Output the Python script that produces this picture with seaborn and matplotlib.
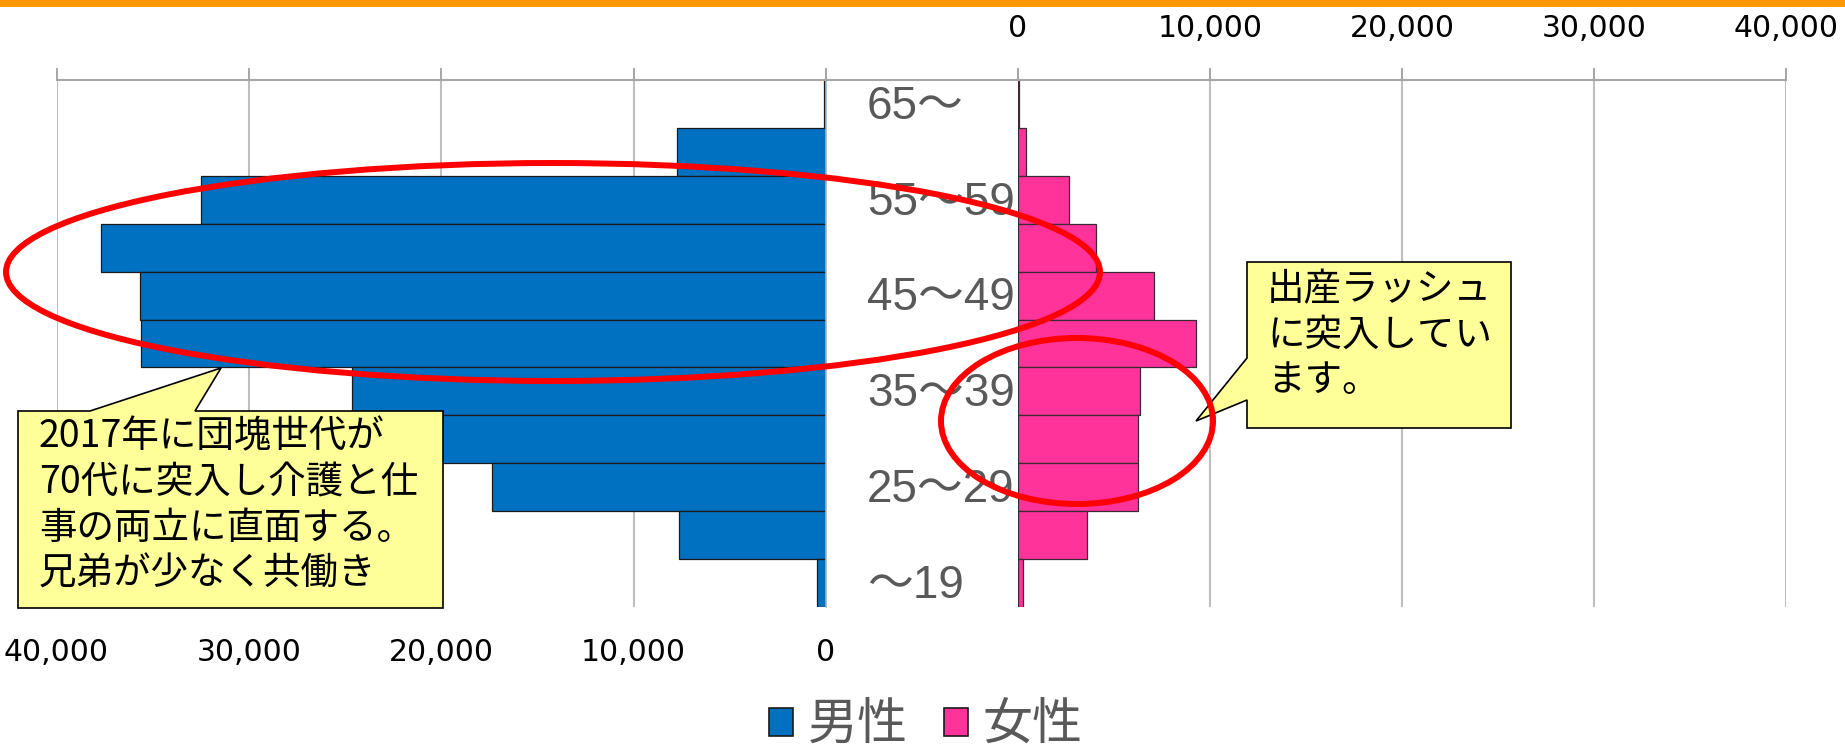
import numpy as np
import pandas as pd
import matplotlib
matplotlib.use("Agg")
import matplotlib.pyplot as plt
import seaborn as sns
from matplotlib.patches import Polygon, Ellipse, Rectangle, Patch
from matplotlib.lines import Line2D
from matplotlib.transforms import Affine2D, blended_transform_factory
from matplotlib.ticker import FuncFormatter
from matplotlib.font_manager import FontProperties

# ---------------- data ----------------
age_groups = ["65～", "60～64", "55～59", "50～54", "45～49", "40～44",
              "35～39", "30～34", "25～29", "20～24", "～19"]
male = [120, 7770, 32470, 37700, 35650, 35600, 24650, 22000, 17370, 7640, 490]
female = [60, 435, 2640, 4050, 7060, 9270, 6380, 6240, 6240, 3580, 245]
tick_values = [0, 10000, 20000, 30000, 40000]
legend_labels = ["男性", "女性"]
note_left = ["2017年に団塊世代が", "70代に突入し介護と仕", "事の両立に直面する。", "兄弟が少なく共働き"]
note_right = ["出産ラッシュ", "に突入してい", "ます。"]

MALE_C = "#0070C0"
FEMALE_C = "#FF3399"
GRID_C = "#BFBFBF"
AXLINE_C = "#A6A6A6"
LABEL_C = "#595959"
CJK = "Noto Sans CJK JP"

W, H = 1845, 754
fig = plt.figure(figsize=(W / 100, H / 100), dpi=100)
px = Affine2D().scale(1 / W, -1 / H).translate(0, 1) + fig.transFigure


def frac(x0, y0, x1, y1):
    return [x0 / W, 1 - y1 / H, (x1 - x0) / W, (y1 - y0) / H]


ax_m = fig.add_axes(frac(56.5, 80, 826, 607))
ax_f = fig.add_axes(frac(1018, 80, 1786, 607))

df = pd.DataFrame({"age": age_groups, "male": male, "female": female})

sns.barplot(data=df, x="male", y="age", order=age_groups, orient="h",
            color=MALE_C, saturation=1, width=1.0, edgecolor="#1a1a1a",
            linewidth=0.9, ax=ax_m, zorder=2)
sns.barplot(data=df, x="female", y="age", order=age_groups, orient="h",
            color=FEMALE_C, saturation=1, width=1.0, edgecolor="#3a2a35",
            linewidth=0.9, ax=ax_f, zorder=2)

fmt = FuncFormatter(lambda v, p: f"{v:,.0f}")
for ax in (ax_m, ax_f):
    ax.set_ylim(len(age_groups) - 0.5, -0.5)
    ax.set_xticks(tick_values)
    ax.xaxis.set_major_formatter(fmt)
    ax.set_xlabel("")
    ax.set_ylabel("")
    ax.set_yticks([])
    ax.grid(axis="x", color=GRID_C, lw=1.5, zorder=0)
    ax.grid(axis="y", visible=False)
    ax.set_axisbelow(True)
    for s in ("left", "bottom", "right"):
        ax.spines[s].set_visible(False)
    ax.spines["top"].set_color(AXLINE_C)
    ax.spines["top"].set_linewidth(1.5)
    ax.set_facecolor("none")

ax_m.set_xlim(40000, 0)
ax_f.set_xlim(0, 40000)
ax_m.spines["right"].set_visible(True)
ax_m.spines["right"].set_color("#9fb4c9")
ax_m.spines["right"].set_linewidth(1.2)

ax_m.tick_params(axis="x", top=True, bottom=False, labeltop=False, labelbottom=True,
                 direction="out", length=8.6, width=1.4, color=AXLINE_C, pad=14,
                 labelsize=21.5, labelcolor="#000000")
ax_f.tick_params(axis="x", top=True, bottom=False, labeltop=True, labelbottom=False,
                 direction="out", length=8.6, width=1.4, color=AXLINE_C, pad=18,
                 labelsize=21.5, labelcolor="#000000")

# top line across the gap
fig.add_artist(Line2D([826, 1018], [80, 80], transform=px, color=AXLINE_C, lw=1.5))

# orange band at top
fig.add_artist(Rectangle((0, 0), W, 7, transform=px, color="#FF9900", lw=0))

# category labels in the middle gap
lab_tr = blended_transform_factory(fig.transFigure, ax_f.transData)
for i, lab in enumerate(age_groups):
    if i % 2 == 0:
        fig.text(867 / W, i + 0.06, lab, transform=lab_tr, ha="left", va="center",
                 fontsize=33, color=LABEL_C, family=["Liberation Sans", CJK], zorder=3)

# callouts
call1 = [(18, 411), (90, 411), (221, 368), (195, 411), (443, 411), (443, 608), (18, 608)]
fig.add_artist(Polygon(call1, closed=True, transform=px, fc="#FFFF99", ec="#000000",
                       lw=1.2, zorder=4))
for k, line in enumerate(note_left):
    fig.text(39, 437 + k * 45.7, line, transform=px, ha="left", va="center",
             fontsize=27, color="#000000", family=CJK, zorder=6)

call2 = [(1247, 262), (1511, 262), (1511, 428), (1247, 428), (1247, 400), (1196, 421), (1247, 358)]
fig.add_artist(Polygon(call2, closed=True, transform=px, fc="#FFFF99", ec="#000000",
                       lw=1.2, zorder=4))
for k, line in enumerate(note_right):
    fig.text(1267, 290 + k * 45, line, transform=px, ha="left", va="center",
             fontsize=27, color="#000000", family=CJK, zorder=6)

# red ellipses
fig.add_artist(Ellipse((553, 272), 1094, 218, angle=0, transform=px, fill=False,
                       ec="#FF0000", lw=4.3, zorder=7))
fig.add_artist(Ellipse((1077, 421), 272, 166, angle=0, transform=px, fill=False,
                       ec="#FF0000", lw=4.3, zorder=7))

# legend
handles = [Patch(facecolor=MALE_C, edgecolor="#1a1a1a", lw=1.2),
           Patch(facecolor=FEMALE_C, edgecolor="#1a1a1a", lw=1.2)]
fig.legend(handles=handles, labels=legend_labels, loc="center",
           bbox_to_anchor=(926 / W, 1 - 726 / H), ncol=2, frameon=False,
           prop=FontProperties(family=CJK, size=36), labelcolor=LABEL_C,
           handlelength=0.47, handleheight=0.47, handletextpad=0.3,
           columnspacing=0.73, borderpad=0)

fig.savefig("out.png", dpi=100)
